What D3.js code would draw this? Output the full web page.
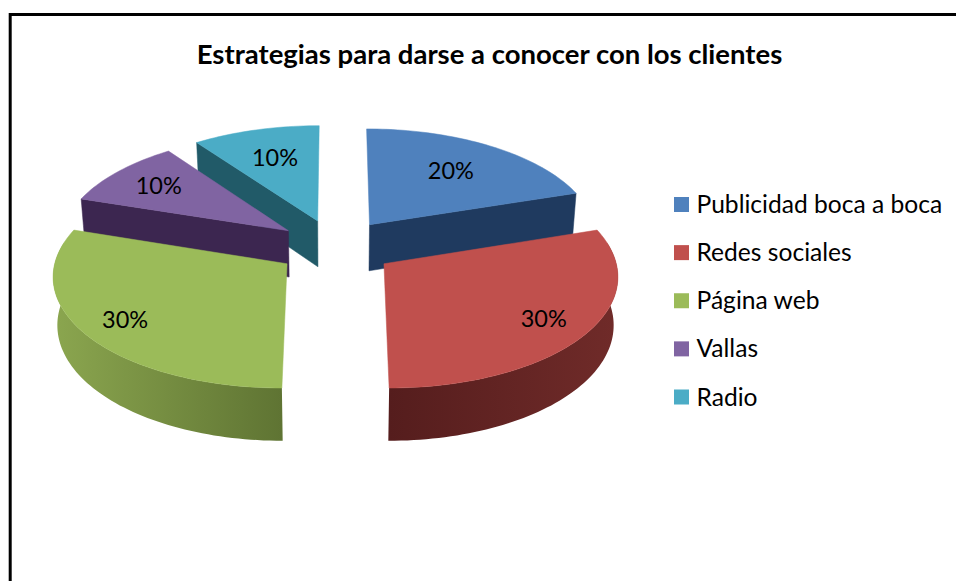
<!DOCTYPE html>
<html><head><meta charset="utf-8">
<script src="https://d3js.org/d3.v7.min.js"></script>
<style>html,body{margin:0;padding:0;background:#fff;overflow:hidden}svg{display:block}</style>
</head><body><svg id="c" width="956" height="581"></svg>
<script>
const chartTitle = "Estrategias para darse a conocer con los clientes";
const categories = ["Publicidad boca a boca","Redes sociales","Página web","Vallas","Radio"];
const shares = [20,30,30,10,10];
const labelRadii = [0.66,0.80,0.81,0.75,0.67];
const topColors = ["#4F81BD","#C0504D","#9BBB59","#8064A2","#4BACC6"];
const wallColors = ["#1F3A5F","#6E2A28","#5F7433","#3C2650","#215A68"];
const outerGradients = [["#1f3a5f","#1f3a5f"],["#551d1d","#702b29"],["#8ba64f","#5f7433"],["#3c2650","#3c2650"],["#215a68","#215a68"]];
const drawOrder = [4,3,0,2,1];
const CX=335.5, CY=247, R=229, TILT=0.476, PERSP=0.0954, EXPLODE=59, DEPTH=47;

const svg=d3.select("#c");
const defs=svg.append("defs");
svg.append("rect").attr("width",956).attr("height",581).attr("fill","#fff");
svg.append("path").attr("d",d3.line()([[10.2,581],[10.2,14.5],[956,14.5]])).attr("fill","none").attr("stroke","#000").attr("stroke-width",3);

const FONT="Lato, 'Open Sans', sans-serif";
const pieData=d3.pie().sort(null).value(d=>d)(shares);
const xS=d3.scaleLinear().domain([-1,1]).range([-R,R]);
function project(a,f,slice,down){
  const mid=(slice.startAngle+slice.endAngle)/2;
  const X=EXPLODE*Math.sin(mid)+xS(f*Math.sin(a));
  const Z=EXPLODE*Math.cos(mid)+xS(f*Math.cos(a));
  const s=1/(1+PERSP*Z/R);
  const xf=down?0.985:1;
  return [CX+s*X*xf, CY-s*Z*TILT+(down?s*DEPTH:0)];
}
const line=d3.line();
function arcAngles(slice){
  const n=Math.max(8,Math.round((slice.endAngle-slice.startAngle)*40));
  return d3.range(n+1).map(i=>slice.startAngle+(slice.endAngle-slice.startAngle)*i/n);
}
drawOrder.forEach(i=>{
  const sl=pieData[i], g=svg.append("g");
  const angles=arcAngles(sl);
  const top=angles.map(a=>project(a,1,sl,false));
  const aT=project(0,0,sl,false), aB=project(0,0,sl,true);
  const midTop=project((sl.startAngle+sl.endAngle)/2,1,sl,false);
  // outer wall: only the part that faces the viewer
  const front=angles.filter(a=>Math.cos(a)<=0.2);
  if(front.length>1){
    const t=front.map(a=>project(a,1,sl,false)), b=front.map(a=>project(a,1,sl,true));
    const gid="out"+i, ext=d3.extent(t,d=>d[0]);
    const lg=defs.append("linearGradient").attr("id",gid).attr("gradientUnits","userSpaceOnUse")
      .attr("x1",ext[0]).attr("x2",ext[1]).attr("y1",0).attr("y2",0);
    lg.append("stop").attr("offset",0).attr("stop-color",outerGradients[i][0]);
    lg.append("stop").attr("offset",1).attr("stop-color",outerGradients[i][1]);
    g.append("path").attr("d",line(t.concat(b.reverse()))+"Z").attr("fill",`url(#${gid})`);
  }
  // radial walls: only when the slice's top lies above the edge on screen
  const wall=(ang)=>{
    if(Math.abs(Math.sin(ang))<0.02) return;
    const p=project(ang,1,sl,false), q=project(ang,1,sl,true);
    const cr=(p[0]-aT[0])*(midTop[1]-aT[1])-(p[1]-aT[1])*(midTop[0]-aT[0]);
    const down=(p[0]-aT[0]);
    if(cr*down>=0) return;
    g.append("path").attr("d",line([aT,p,q,aB])+"Z").attr("fill",wallColors[i]).attr("stroke",wallColors[i]).attr("stroke-width",.5);
  };
  wall(sl.startAngle); wall(sl.endAngle);
  g.append("path").attr("d",line([aT].concat(top))+"Z").attr("fill",topColors[i]).attr("stroke",topColors[i]).attr("stroke-width",.5);
});
svg.append("g").selectAll("text").data(pieData).join("text")
  .attr("x",(d,i)=>project((d.startAngle+d.endAngle)/2,labelRadii[i],d,false)[0])
  .attr("y",(d,i)=>project((d.startAngle+d.endAngle)/2,labelRadii[i],d,false)[1]+8)
  .attr("text-anchor","middle").attr("font-family",FONT).attr("font-size",23.5).attr("fill","#000")
  .text(d=>d.value+"%");
svg.append("text").attr("x",489.5).attr("y",63.5).attr("text-anchor","middle").attr("font-family",FONT)
  .attr("font-weight",700).attr("font-size",27.5).attr("fill","#000").text(chartTitle);
const yL=d3.scalePoint().domain(categories).range([205,397.5]);
const leg=svg.append("g").selectAll("g").data(categories).join("g").attr("transform",d=>`translate(674,${yL(d)})`);
leg.append("rect").attr("x",0).attr("y",-8).attr("width",15).attr("height",15).attr("fill",(d,i)=>topColors[i]);
leg.append("text").attr("x",22.5).attr("y",8).attr("font-family",FONT).attr("font-size",24.6).attr("fill","#000").text(d=>d);
</script></body></html>
